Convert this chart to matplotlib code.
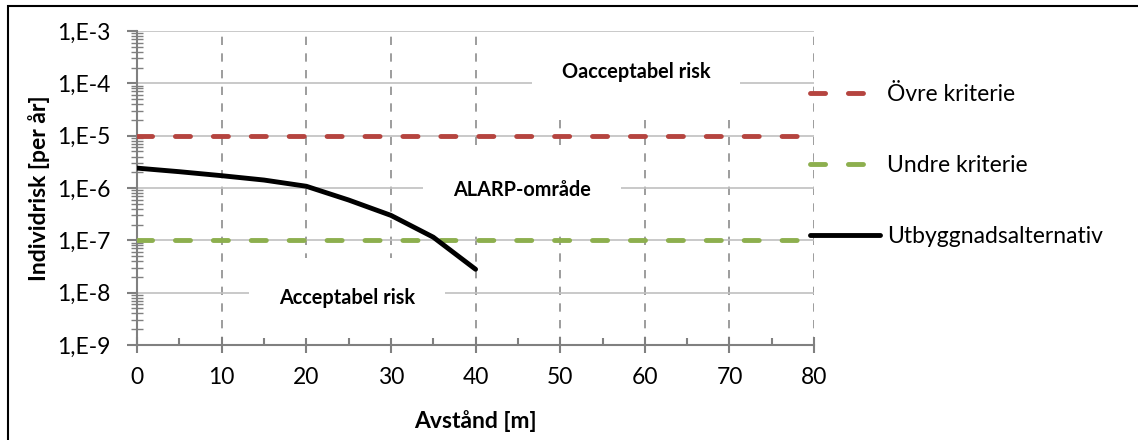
import math
import matplotlib
matplotlib.use("Agg")
import matplotlib.pyplot as plt
from matplotlib.ticker import LogLocator, FixedLocator, NullFormatter, FuncFormatter
from matplotlib.patches import Rectangle

plt.rcParams['font.family'] = ['Lato', 'DejaVu Sans']
plt.rcParams['axes.unicode_minus'] = False

# distance [m] and individual risk [per year]
avstand = [0, 5, 10, 15, 20, 25, 30, 35, 40]
utbyggnad = [2.4e-6, 2.05e-6, 1.72e-6, 1.42e-6, 1.08e-6, 5.9e-7, 3.0e-7, 1.15e-7, 2.8e-8]

krit_x = [0, 80]
ovre = [1e-5, 1e-5]
undre = [1e-7, 1e-7]

# region labels: (text, x, y)
regioner = [("Oacceptabel risk", 59, 1.65e-4),
            ("ALARP-område", 45.5, 9.0e-7),
            ("Acceptabel risk", 24.8, 8.0e-9)]

fig = plt.figure(figsize=(11.38, 4.4), dpi=100)
ax = fig.add_axes([0.1204, 0.2159, 0.595, 0.7136])

grey = '#808080'
ax.set_yscale('log')
ax.set_ylim(1e-9, 1e-3)
ax.set_xlim(0, 80)

# gridlines
ax.set_axisbelow(True)
ax.grid(axis='y', which='major', color='#c0c0c0', lw=1.2, zorder=0)
ax.grid(axis='x', which='major', color='#8c8c8c', lw=1.2, ls=(0, (5, 5)), zorder=0)

dash = (0, (3.1, 4.7))
ax.plot(krit_x, ovre, color='#B5443F', lw=3.5, ls=dash, label='Övre kriterie',
        dash_capstyle='round', zorder=4)
ax.plot(krit_x, undre, color='#8DAF4E', lw=3.5, ls=dash, label='Undre kriterie',
        dash_capstyle='round', zorder=4)
ax.plot(avstand, utbyggnad, color='black', lw=3.5, label='Utbyggnadsalternativ',
        solid_capstyle='round', zorder=5)

for txt, x, y in regioner:
    ax.text(x, y, txt, ha='center', va='center', fontsize=14.3, fontweight='bold',
            bbox=dict(boxstyle='square,pad=1.5', fc='white', ec='none'), zorder=2)

# ticks
ax.xaxis.set_major_locator(FixedLocator(range(0, 81, 10)))
ax.xaxis.set_minor_locator(FixedLocator(range(5, 80, 10)))
ax.yaxis.set_major_locator(LogLocator(base=10, numticks=10))
ax.yaxis.set_minor_locator(LogLocator(base=10, subs=range(2, 10), numticks=20))
ax.yaxis.set_minor_formatter(NullFormatter())
ax.yaxis.set_major_formatter(FuncFormatter(lambda v, p: '1,E%d' % round(math.log10(v))))

ax.tick_params(axis='both', which='major', colors=grey, labelcolor='black', labelsize=16.5, width=1.5)
ax.tick_params(axis='x', which='major', direction='inout', length=12, pad=10)
ax.tick_params(axis='x', which='minor', direction='in', length=5, width=1.5, colors=grey)
ax.tick_params(axis='y', which='major', direction='out', length=7, pad=12)
ax.tick_params(axis='y', which='minor', direction='inout', length=8, width=1.0, colors=grey)

for s in ['top', 'right']:
    ax.spines[s].set_visible(False)
for s in ['left', 'bottom']:
    ax.spines[s].set_color(grey)
    ax.spines[s].set_linewidth(1.5)

ax.set_xlabel('Avstånd [m]', fontsize=16.5, fontweight='bold', labelpad=16)
ax.set_ylabel('Individrisk [per år]', fontsize=16.5, fontweight='bold', labelpad=5)

fig.legend(loc='center left', bbox_to_anchor=(0.7118, 0.624), frameon=False, fontsize=16.5,
           handlelength=3.05, handletextpad=0.3, labelspacing=2.2, borderpad=0, borderaxespad=0)

# chart border (only left and top edges fall inside the image)
fig.patches.append(Rectangle((0.007, -0.1), 1.2, 1.086, transform=fig.transFigure,
                             fill=False, ec='black', lw=1.5))

fig.savefig('out.png', dpi=100)
